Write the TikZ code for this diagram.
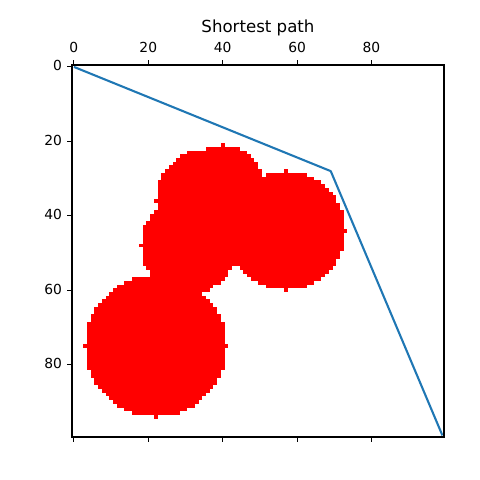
\documentclass[tikz,border=0pt]{standalone}
\usepackage{fontspec}
\setmainfont{DejaVu Sans}
\definecolor{mplblue}{HTML}{1F77B4}
\definecolor{obstred}{HTML}{FF0000}
\begin{document}
\begin{tikzpicture}[x=0.01in,y=-0.01in,
  ticklabel/.style={inner sep=0pt,font=\fontsize{10}{12}\selectfont},
  tickmark/.style={line width=0.8pt,black},
  spine/.style={line width=0.8pt,black}]
  \fill[white] (0,0) rectangle (480,480);
  \useasboundingbox (0,0) rectangle (480,480);
  % grid cells: data units, pixel (0,0) at its centre
  \begin{scope}[xshift=0.7386in,yshift=-0.6686in,x=0.0372in,y=-0.0372in]
    % obstacles, one strip per row of each disc
    \foreach \cx/\cy/\r in {22/75/19,57/44/16,40/32/11,36/36/14,31/48/13}{
      \foreach \dy in {-\r,...,\r}{
        \pgfmathsetmacro{\hw}{floor(sqrt(\r*\r-\dy*\dy)+0.001)}
        \pgfmathsetmacro{\yy}{\cy+\dy}
        \fill[obstred] (\cx-\hw-0.5,\yy-0.52) rectangle (\cx+\hw+0.5,\yy+0.52);
      }
    }
    % path
    \coordinate (start) at (0,0);
    \coordinate (bend) at (69,28);
    \coordinate (goal) at (99,99);
    \draw[mplblue,line width=1.5pt,line join=round] (start) -- (bend) -- (goal);
  \end{scope}
  % axes frame
  \draw[spine] (72,65) rectangle (444,437);
  \foreach \v in {0,20,...,80}{
    \pgfmathsetmacro{\p}{73.86+3.72*\v}
    \pgfmathsetmacro{\q}{66.86+3.72*\v}
    \draw[tickmark] (\p,65) -- (\p,60.14);
    \draw[tickmark] (\p,437) -- (\p,441.86);
    \draw[tickmark] (72,\q) -- (67.14,\q);
    \node[ticklabel,anchor=base] (xl\v) at (\p,52.7) {\v};
    \node[ticklabel,anchor=east] (yl\v) at (62.3,\q-1) {\v};
  }
  \node[anchor=base,inner sep=0pt,font=\fontsize{12}{14}\selectfont] (title) at (258,32.5) {Shortest path};
\end{tikzpicture}
\end{document}
